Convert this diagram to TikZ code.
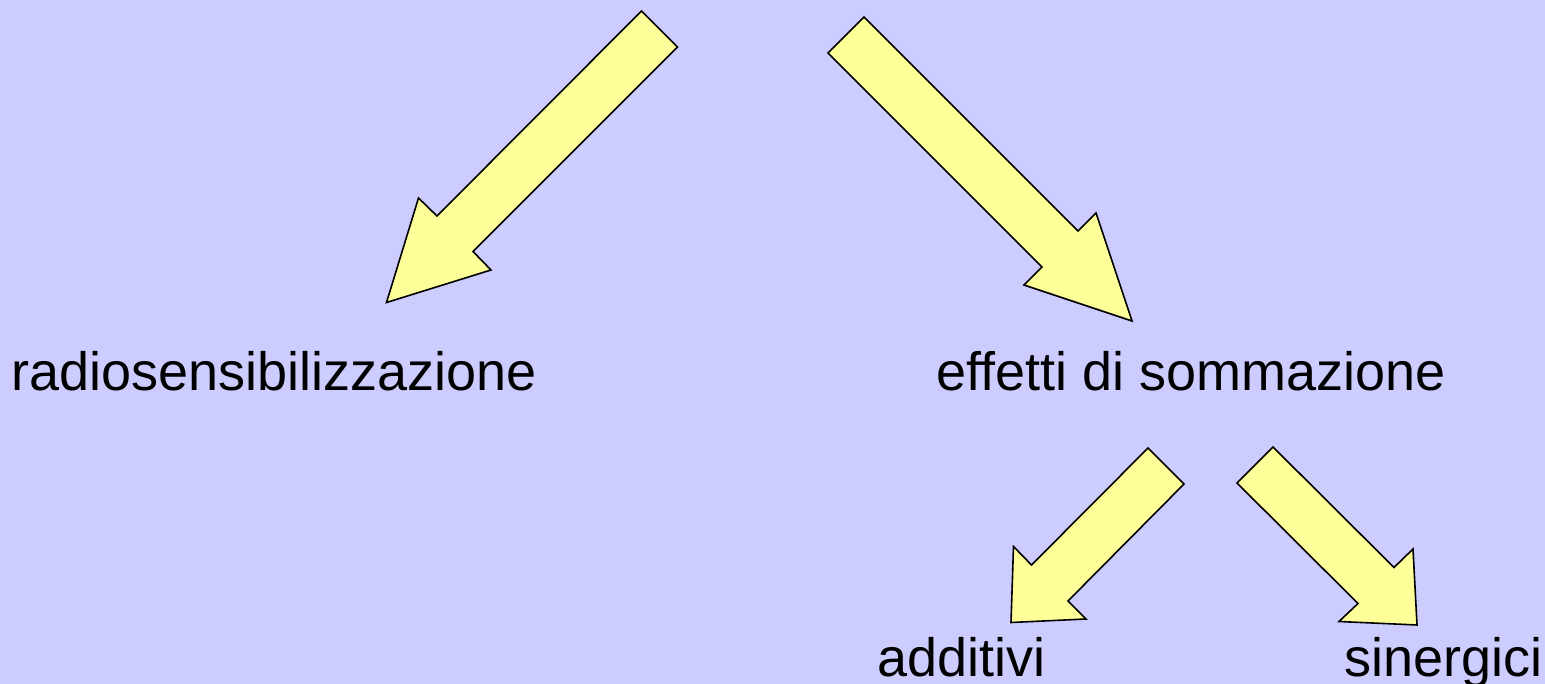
\documentclass[tikz,border=0pt]{standalone}
\usepackage{fontspec}
\setmainfont{Liberation Sans}
\definecolor{bgc}{HTML}{CCCCFF}
\definecolor{arrc}{HTML}{FFFF99}
\begin{document}
\begin{tikzpicture}[x=1pt,y=-1pt,
  blockarrow/.style={fill=arrc,draw=black,line width=1.6pt,line join=miter},
  lbl/.style={anchor=base west,inner sep=0pt,font=\fontsize{54}{60}\selectfont}]
\fill[bgc] (0,0) rectangle (1545,684);
\useasboundingbox (0,0) rectangle (1545,684);
% arrows
\draw[blockarrow] (641.5,11) -- (677.5,47) -- (473,251.5) -- (491,270) -- (386.5,302.5) -- (418.5,198) -- (437,216) -- cycle;
\draw[blockarrow] (864,17) -- (828,53) -- (1042,267) -- (1024,285) -- (1132,321) -- (1096,213) -- (1078,231) -- cycle;
\draw[blockarrow] (1148,448) -- (1184,484) -- (1068,601) -- (1086,619) -- (1011,622.5) -- (1013.5,546.5) -- (1031.5,565) -- cycle;
\draw[blockarrow] (1273,447) -- (1237,483) -- (1358,603.5) -- (1339,621.5) -- (1417,625) -- (1413,549) -- (1394,567.5) -- cycle;
% labels
\node[lbl] (radio) at (11,391) {radiosensibilizzazione};
\node[lbl] (somma) at (936,391) {effetti di sommazione};
\node[lbl] (addit) at (877,676) {additivi};
\node[lbl] (siner) at (1344,676) {sinergici};
\end{tikzpicture}
\end{document}
